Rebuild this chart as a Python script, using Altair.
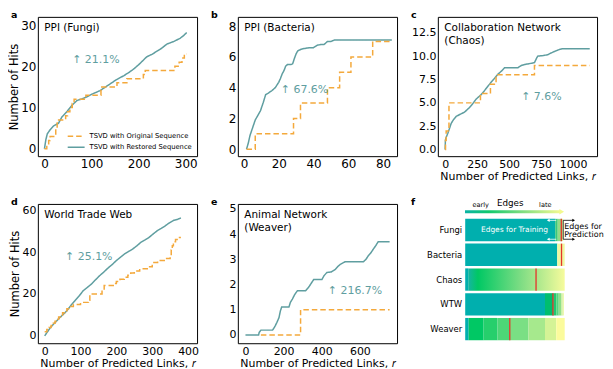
import altair as alt
import pandas as pd

FONT = "DejaVu Sans"
TEAL = "#5F9EA0"
ORANGE = "#F4A93C"
RED = "#E5332A"
BAR_TEAL = "#00AFAE"
SERIES = ["TSVD with Original Sequence", "TSVD with Restored Sequence"]
SERIES_COLORS = [ORANGE, TEAL]
SERIES_DASH = [[5.5, 3], [1, 0]]
XTITLE = "Number of Predicted Links, 𝑟"
YTITLE = "Number of Hits"

# ---------------- a: PPI (Fungi)
a_rest_x = [0, 3, 6, 12, 19, 30, 37, 47, 58, 69, 80, 90, 102, 118, 130, 139, 152, 168, 178, 189,
            203, 217, 228, 238, 249, 260, 274, 288, 296, 302]
a_rest_y = [0, 2.2, 3.6, 4.6, 5.5, 6.2, 7.7, 8.9, 10.5, 11.7, 12.1, 12.6, 13.3, 14.1, 15.0, 15.7,
            16.7, 17.7, 18.4, 19.3, 20.7, 22.3, 22.9, 23.6, 24.4, 25.4, 26.0, 26.8, 27.5, 28.2]
a_orig_x = [0, 5, 9, 12, 24, 27, 45, 49, 54, 59, 63, 88, 120, 154, 175, 210, 214, 277, 286, 292, 297, 302]
a_orig_y = [0, 1, 2, 3, 5, 7, 8, 9, 10, 11, 12, 13, 15, 16, 17, 18, 19, 20, 21, 22, 23, 23]

# ---------------- b: PPI (Bacteria)
b_rest_x = [1.5, 2.5, 3.5, 5, 6.5, 8, 9.5, 11, 12.5, 14, 16, 18, 20, 21, 22, 23, 24, 25, 27, 28,
            29, 30, 31, 33, 35, 38, 40, 42, 44, 46, 48, 50, 52, 85]
b_rest_y = [0, 0.4, 0.9, 1.4, 1.9, 2.2, 2.5, 3.0, 3.55, 3.65, 3.8, 4.0, 4.35, 4.6, 4.9, 5.1, 5.4,
            5.5, 5.5, 5.55, 5.9, 6.2, 6.4, 6.5, 6.55, 6.6, 6.6, 6.75, 6.8, 6.8, 7.0, 7.0, 7.1, 7.1]
b_orig_x = [1.5, 6.5, 28.5, 32.5, 48, 55, 61.5, 74, 85]
b_orig_y = [0, 1, 2, 3, 4, 5, 6, 7, 7]

# ---------------- c: Collaboration Network (Chaos)
c_rest_x = [0, 2, 8, 21, 35, 47, 65, 86, 120, 151, 190, 215, 242, 275, 307, 335, 359, 385, 411, 440,
            464, 568, 595, 620, 660, 698, 715, 724, 760, 802, 830, 854, 890, 919, 1130]
c_rest_y = [0, 1.0, 1.3, 1.75, 2.3, 2.8, 3.2, 3.55, 3.8, 4.0, 4.5, 4.9, 5.4, 5.8, 6.3, 6.8, 7.2, 7.6,
            8.05, 8.4, 8.75, 8.75, 9.0, 9.1, 9.2, 9.3, 9.8, 10.0, 10.05, 10.15, 10.35, 10.5, 10.7, 10.8, 10.8]
c_orig_x = [0, 3, 8, 30, 276, 354, 398, 698, 1130]
c_orig_y = [0, 1, 2, 5, 6, 7, 8, 9, 9]

# ---------------- d: World Trade Web
d_rest_x = [0, 8, 16, 27, 38, 50, 62, 73, 84, 96, 107, 118, 130, 142, 153, 165, 176, 188, 199, 211,
            222, 234, 245, 257, 268, 280, 291, 303, 314, 325, 336, 348, 360, 370, 380]
d_rest_y = [0, 2, 4, 6, 8, 10, 12, 14.5, 16.7, 19, 21.5, 23, 24.7, 26.8, 28.7, 30.5, 32.3, 34, 35.8,
            37.5, 39, 40.3, 41.4, 43, 44.6, 45.8, 47, 48.7, 50.2, 51.3, 52.5, 54, 55.2, 55.6, 56.3]
d_orig_x = [0, 6, 12, 18, 24, 29, 34, 39, 44, 50, 56, 62, 70, 80, 100, 122, 126, 160, 166, 194,
            200, 210, 222, 232, 240, 250, 265, 290, 300, 315, 336, 350, 353, 356, 359, 365, 372, 380]
d_orig_y = [2, 3, 4, 5, 6, 7, 8, 9, 10, 11, 12, 13, 14, 15, 16, 17, 20, 22, 24, 25,
            26, 27, 28, 29, 30, 31, 32, 33, 35, 36, 37, 38, 41, 43, 45, 46, 47, 47]

# ---------------- e: Animal Network (Weaver)
e_rest_x = [0, 69, 72, 81, 142, 150, 156, 165, 176, 183, 190, 228, 236, 246, 258, 272, 315, 324, 332,
            345, 358, 401, 412, 427, 450, 471, 485, 497, 522, 618, 632, 644, 657, 670, 684, 696, 756]
e_rest_y = [0, 0, 0.1, 0.19, 0.19, 0.28, 0.36, 0.5, 0.69, 0.95, 1.11, 1.11, 1.3, 1.42, 1.6, 1.75, 1.75,
            1.83, 1.9, 2.05, 2.2, 2.2, 2.35, 2.48, 2.5, 2.6, 2.72, 2.8, 2.9, 2.9, 3.0, 3.14, 3.25, 3.4,
            3.55, 3.7, 3.7]
e_orig_x = [81, 289, 756]
e_orig_y = [0, 1, 1]

# ---------------- f: edge ordering bars
F_ROWS = ["Fungi", "Bacteria", "Chaos", "WTW", "Weaver"]
seg_row = ["Fungi"] * 4 + ["Bacteria"] * 2 + ["Chaos"] + ["WTW"] * 7 + ["Weaver"] * 8
seg_start = [0, 90.5, 93, 96.5,
             0, 92.5,
             0,
             0, 80.2, 89, 91.5, 94, 96.5, 98,
             0, 3.5, 18.5, 32.5, 44.8, 63.5, 80.2, 91.5]
seg_end = [90.5, 93, 96.5, 98.5,
           92.5, 100,
           3,
           80.2, 89, 91.5, 94, 96.5, 98, 99.3,
           3.5, 18.5, 32.5, 44.8, 63.5, 80.2, 91.5, 100]
seg_color = [BAR_TEAL, "#3CC878", "#8FDC86", "#D6F29C",
             BAR_TEAL, "#EFF8A0",
             BAR_TEAL,
             BAR_TEAL, "#00BE6E", "#1EC872", "#55D57C", "#8FE08A", "#C6EE9A", "#EEF8B0",
             BAR_TEAL, "#00C864", "#26CF6C", "#4DD677", "#7ADF84", "#A6E98D", "#D4F396", "#FBFB9C"]
chaos_grad_start = [3]
chaos_grad_end = [100]
red_row = F_ROWS
red_pos = [96.6, 96.8, 71.2, 88.2, 44.8]

DUMMY = pd.DataFrame({"k": [0]})


def letter_mark(letter):
    return alt.Chart(DUMMY).mark_text(
        align="left", baseline="alphabetic", font=FONT, fontSize=9.5, fontWeight="bold",
        color="black").encode(x=alt.value(-27), y=alt.value(1), text=alt.value(letter))


def legend_layers():
    layers = []
    for i, (s, c, d) in enumerate(zip(SERIES, SERIES_COLORS, SERIES_DASH)):
        yy = 120 + 11 * i
        layers.append(alt.Chart(DUMMY).mark_rule(color=c, strokeDash=d, strokeWidth=1.6).encode(
            x=alt.value(30), x2=alt.value(47), y=alt.value(yy)))
        layers.append(alt.Chart(DUMMY).mark_text(align="left", baseline="middle", font=FONT,
                                                 fontSize=6.8, color="black").encode(
            x=alt.value(52), y=alt.value(yy), text=alt.value(s)))
    return layers


def line_panel(rest_x, rest_y, orig_x, orig_y, xdom, ydom, xticks, yticks, name, pct,
               pct_x, pct_y, letter, xtitle=None, ytitle=None, fs=12, yfmt="d", legend=False):
    df = pd.DataFrame({
        "x": list(orig_x) + list(rest_x),
        "y": list(orig_y) + list(rest_y),
        "s": [SERIES[0]] * len(orig_x) + [SERIES[1]] * len(rest_x),
    })
    xs = alt.Scale(domain=xdom, nice=False, zero=False)
    ys = alt.Scale(domain=ydom, nice=False, zero=False)
    xax = alt.Axis(values=xticks, title=xtitle, format="d", labelFontSize=fs, titleFontSize=11,
                   labelPadding=2, titlePadding=1, labelFlush=False, labelOverlap=False)
    yax = alt.Axis(values=yticks, title=ytitle, format=yfmt, labelFontSize=fs, titleFontSize=11.5,
                   labelPadding=2, titlePadding=1, labelFlush=False, labelOverlap=False)
    color = alt.Color("s:N", scale=alt.Scale(domain=SERIES, range=SERIES_COLORS), legend=None)
    dash = alt.StrokeDash("s:N", scale=alt.Scale(domain=SERIES, range=SERIES_DASH), legend=None)
    enc = dict(x=alt.X("x:Q", scale=xs, axis=xax), y=alt.Y("y:Q", scale=ys, axis=yax),
               color=color, strokeDash=dash)
    base = alt.Chart(df)
    rest = base.transform_filter(alt.datum.s == SERIES[1]).mark_line(strokeWidth=1.5).encode(**enc)
    orig = base.transform_filter(alt.datum.s == SERIES[0]).mark_line(
        strokeWidth=1.5, interpolate="step-after").encode(**enc)
    ann = pd.DataFrame({"x": [pct_x], "y": [pct_y], "t": [pct]})
    pct_text = alt.Chart(ann).mark_text(align="left", baseline="middle", font=FONT, fontSize=11,
                                        color=TEAL).encode(
        x=alt.X("x:Q", scale=xs, axis=xax), y=alt.Y("y:Q", scale=ys, axis=yax), text="t:N")
    name_text = alt.Chart(ann).mark_text(align="left", baseline="alphabetic", font=FONT, fontSize=10.5,
                                         lineHeight=12.5, color="black").encode(
        x=alt.value(6.5), y=alt.value(14.5), text=alt.value(name))
    layers = [rest, orig, pct_text, name_text, letter_mark(letter)]
    if legend:
        layers += legend_layers()
    return alt.layer(*layers).properties(width=160, height=140)


pa = line_panel(a_rest_x, a_rest_y, a_orig_x, a_orig_y, [-14, 324], [-1.8, 32], [0, 100, 200, 300],
                [0, 10, 20, 30], "PPI (Fungi)", "↑ 21.1%", 59, 21.6, "a", ytitle=YTITLE, fs=12,
                legend=True)
pb = line_panel(b_rest_x, b_rest_y, b_orig_x, b_orig_y, [-3.5, 88], [-0.45, 8.6], [0, 20, 40, 60, 80],
                [0, 2, 4, 6, 8], "PPI (Bacteria)", "↑ 67.6%", 21.2, 3.86, "b", fs=12)
pc = line_panel(c_rest_x, c_rest_y, c_orig_x, c_orig_y, [-57, 1187], [-0.7, 14.2],
                [0, 250, 500, 750, 1000], [0, 2.5, 5, 7.5, 10, 12.5],
                ["Collaboration Network", "(Chaos)"], "↑ 7.6%", 594, 5.6, "c", xtitle=XTITLE,
                fs=11, yfmt=".1f")
pd_ = line_panel(d_rest_x, d_rest_y, d_orig_x, d_orig_y, [-19, 425], [-3.5, 63], [0, 100, 200, 300, 400],
                 [0, 20, 40, 60], "World Trade Web", "↑ 25.1%", 57, 37.7, "d", xtitle=XTITLE,
                 ytitle=YTITLE, fs=11)
pe = line_panel(e_rest_x, e_rest_y, e_orig_x, e_orig_y, [-40, 795], [-0.33, 5.2], [0, 200, 400, 600],
                [0, 1, 2, 3, 4, 5], ["Animal Network", "(Weaver)"], "↑ 216.7%", 432, 1.75, "e",
                xtitle=XTITLE, fs=11)

# ---------------- panel f
X_F = alt.Scale(domain=[-27.5, 132.5], nice=False, zero=False)
Y_F = alt.Scale(domain=F_ROWS, range=[15, 137], paddingInner=0.1, paddingOuter=0)
fx = lambda f: alt.X(f, scale=X_F, axis=None)
fy = alt.Y("row:N", scale=Y_F, axis=None)

seg_df = pd.DataFrame({"row": seg_row, "start": seg_start, "end": seg_end, "c": seg_color})
segs = alt.Chart(seg_df).mark_rect().encode(x=fx("start:Q"), x2="end:Q", y=fy,
                                            color=alt.Color("c:N", scale=None))
grad = alt.LinearGradient(gradient="linear", x1=0, x2=1, y1=0, y2=0, stops=[
    alt.GradientStop(color="#16B5A2", offset=0),
    alt.GradientStop(color="#00C864", offset=0.1),
    alt.GradientStop(color="#7FDD84", offset=0.55),
    alt.GradientStop(color="#F6FB9C", offset=1)])
chaos_df = pd.DataFrame({"row": ["Chaos"], "start": chaos_grad_start, "end": chaos_grad_end})
chaos = alt.Chart(chaos_df).mark_rect(color=grad).encode(x=fx("start:Q"), x2="end:Q", y=fy)
red_df = pd.DataFrame({"row": red_row, "pos": red_pos})
reds = alt.Chart(red_df).mark_tick(color=RED, orient="vertical", thickness=1.3, size=22.4,
                                   opacity=1).encode(x=fx("pos:Q"), y=fy)
lab_df = pd.DataFrame({"row": F_ROWS})
labels = alt.Chart(lab_df).mark_text(align="right", baseline="middle", font=FONT, fontSize=8.5,
                                     color="black").encode(x=alt.value(24.5), y=fy, text="row:N")
train_df = pd.DataFrame({"row": ["Fungi"], "t": ["Edges for Training"]})
train = alt.Chart(train_df).mark_text(align="center", baseline="middle", font=FONT, fontSize=7.5,
                                      color="white").encode(x=alt.value(77), y=fy, text="t:N")
hdr_bar = alt.Chart(DUMMY).mark_rect(color=alt.LinearGradient(
    gradient="linear", x1=0, x2=1, y1=0, y2=0, stops=[
        alt.GradientStop(color="#0BB3A5", offset=0),
        alt.GradientStop(color="#10C96E", offset=0.25),
        alt.GradientStop(color="#7EDD80", offset=0.6),
        alt.GradientStop(color="#F2F98F", offset=1)])).encode(
    x=alt.value(27.3), x2=alt.value(123), y=alt.value(6.4), y2=alt.value(9.4))
hdr_head = alt.Chart(DUMMY).mark_point(shape="triangle-right", filled=True, size=30, opacity=1,
                                       color="#F2F98F").encode(x=alt.value(124.5), y=alt.value(7.9))
hdr_early = alt.Chart(DUMMY).mark_text(font=FONT, fontSize=6.6, color="black", baseline="alphabetic",
                                       align="center").encode(x=alt.value(43), y=alt.value(3.5),
                                                              text=alt.value("early"))
hdr_late = alt.Chart(DUMMY).mark_text(font=FONT, fontSize=6.6, color="black", baseline="alphabetic",
                                      align="center").encode(x=alt.value(108), y=alt.value(3.2),
                                                             text=alt.value("late"))
hdr_edges = alt.Chart(DUMMY).mark_text(font=FONT, fontSize=8.8, color="black", baseline="alphabetic",
                                       align="center").encode(x=alt.value(72.7), y=alt.value(2.5),
                                                              text=alt.value("Edges"))
wa_top = alt.Chart(DUMMY).mark_rule(color="white", strokeWidth=0.8).encode(
    x=alt.value(111), x2=alt.value(119), y=alt.value(16.5))
wa_bot = alt.Chart(DUMMY).mark_rule(color="white", strokeWidth=0.8).encode(
    x=alt.value(111), x2=alt.value(119), y=alt.value(35.5))
wh_top = alt.Chart(DUMMY).mark_point(shape="triangle-left", filled=True, size=10, opacity=1,
                                     color="white").encode(x=alt.value(111), y=alt.value(16.5))
wh_bot = alt.Chart(DUMMY).mark_point(shape="triangle-left", filled=True, size=10, opacity=1,
                                     color="white").encode(x=alt.value(111), y=alt.value(35.5))
ba_top = alt.Chart(DUMMY).mark_rule(color="black", strokeWidth=0.8).encode(
    x=alt.value(126), x2=alt.value(136), y=alt.value(16.5))
ba_bot = alt.Chart(DUMMY).mark_rule(color="black", strokeWidth=0.8).encode(
    x=alt.value(126), x2=alt.value(136), y=alt.value(35.5))
ba_v = alt.Chart(DUMMY).mark_rule(color="black", strokeWidth=0.8).encode(
    x=alt.value(126), y=alt.value(16.5), y2=alt.value(35.5))
bh_top = alt.Chart(DUMMY).mark_point(shape="triangle-right", filled=True, size=10, opacity=1,
                                     color="black").encode(x=alt.value(136.5), y=alt.value(16.5))
bh_bot = alt.Chart(DUMMY).mark_point(shape="triangle-right", filled=True, size=10, opacity=1,
                                     color="black").encode(x=alt.value(136.5), y=alt.value(35.5))
pred = alt.Chart(DUMMY).mark_text(font=FONT, fontSize=8, lineHeight=8, color="black",
                                  baseline="alphabetic", align="left").encode(
    x=alt.value(127), y=alt.value(25), text=alt.value(["Edges for", "Prediction"]))

pf = alt.layer(segs, chaos, reds, labels, train, hdr_bar, hdr_head, hdr_early, hdr_late, hdr_edges,
               wa_top, wa_bot, wh_top, wh_bot, ba_top, ba_bot, ba_v, bh_top, bh_bot, pred,
               letter_mark("f")).properties(
    width=160, height=140, view=alt.ViewBackground(stroke="transparent"))

chart = alt.concat(pa, pb, pc, pd_, pe, pf, columns=3, spacing={"row": 48, "column": 41},
                   bounds="flush").resolve_scale(
    x="independent", y="independent", color="independent", strokeDash="independent"
).properties(
    padding={"left": 0, "top": 0, "right": 0, "bottom": 0}
).configure(font=FONT).configure_view(stroke="black", strokeWidth=1).configure_axis(
    grid=False, domain=False, ticks=False, labelColor="black", titleColor="black",
    labelFont=FONT, titleFont=FONT, titleFontWeight="normal")

chart.save("out.html", embed_options={"renderer": "svg", "actions": False})
